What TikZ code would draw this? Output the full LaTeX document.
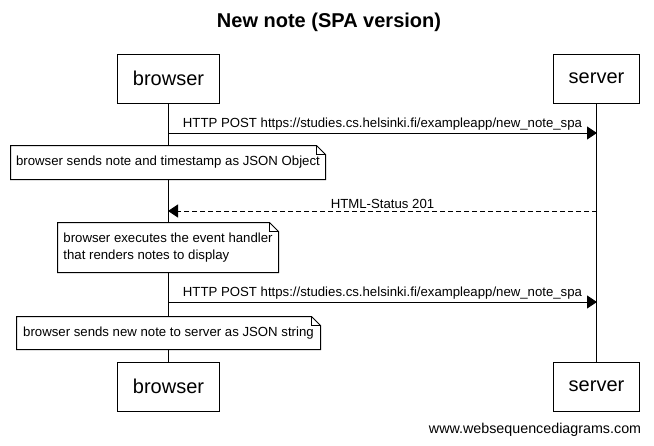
\documentclass[tikz,border=0pt]{standalone}
\usepackage{fontspec}
\setmainfont{Liberation Sans}
\usetikzlibrary{arrows.meta}

% folded corner outline round a note node
\newcommand{\notefold}[1]{
	\draw ([xshift=-9pt]#1.north east) -- (#1.north west) -- (#1.south west) -- (#1.south east) -- ([yshift=-9pt]#1.north east) -- cycle;
	\draw ([xshift=-9pt]#1.north east) |- ([yshift=-9pt]#1.north east);
}

\begin{document}
\begin{tikzpicture}[x=1pt, y=-1pt, line width=1pt]
		\tikzset{actor/.style={draw, fill=white, inner xsep=15.5pt, minimum height=49pt, font=\fontsize{20}{24}\selectfont}};
		\tikzset{note/.style={fill=white, inner sep=0pt, font=\fontsize{13.2}{16.5}\selectfont}};
		\tikzset{msg/.style={-{Triangle[length=10pt, width=13pt]}}};
		\tikzset{lbl/.style={inner sep=2pt, font=\fontsize{13.2}{15}\selectfont}};

		\useasboundingbox (0, 0) rectangle (654, 445);

		\node[font=\bfseries\fontsize{20}{24}\selectfont] (title) at (329, 22) {New note (SPA version)};

		\node[actor] (browser) at (168.5, 78.5) {browser};
		\node[actor] (server) at (596.5, 78.5) {server};
		\node[actor] (browserb) at (168.5, 386.5) {browser};
		\node[actor] (serverb) at (596.5, 386.5) {server};

		\draw (browser) to (browserb);
		\draw (server) to (serverb);

		\coordinate (b1) at (168, 133);
		\coordinate (s1) at (597, 133);
		\coordinate (b2) at (168, 211);
		\coordinate (s2) at (597, 211);
		\coordinate (b3) at (168, 302);
		\coordinate (s3) at (597, 302);

		\draw[msg] (b1) to node[lbl, above] {HTTP POST https://studies.cs.helsinki.fi/exampleapp/new\_note\_spa} (s1);
		\draw[msg, dash pattern=on 5pt off 3pt] (s2) to node[lbl, above] {HTML-Status 201} (b2);
		\draw[msg] (b3) to node[lbl, above] {HTTP POST https://studies.cs.helsinki.fi/exampleapp/new\_note\_spa} (s3);

		\node[note, minimum width=314pt, minimum height=33pt] (n1) at (168, 162.5) {browser sends note and timestamp as JSON Object};
		\notefold{n1}

		\node[note, minimum width=220pt, minimum height=49pt, align=left] (n2) at (168, 247.5) {browser executes the event handler\\that renders notes to display};
		\notefold{n2}

		\node[note, minimum width=303pt, minimum height=32pt] (n3) at (168.5, 333) {browser sends new note to server as JSON string};
		\notefold{n3}

		\node[anchor=east, font=\fontsize{14.3}{16}\selectfont] (site) at (645, 430) {www.websequencediagrams.com};

	\end{tikzpicture}
\end{document}
